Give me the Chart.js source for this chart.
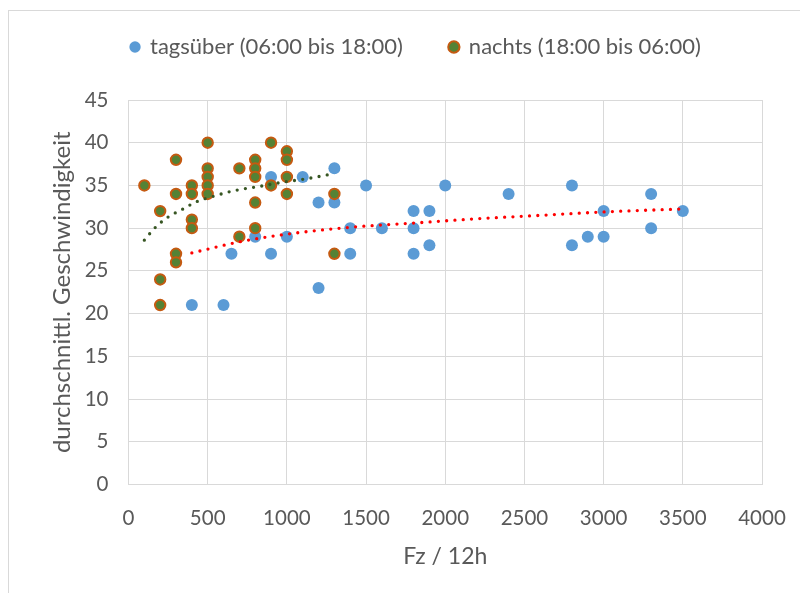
<html>
<head>
	<title>Geschwindigkeit</title>
	<style>
		html, body { margin: 0; padding: 0; background: #fff; }
		#app { width: 800px; height: 593px; }
	</style>
</head>
<body>
	<div id="app"><canvas id="chart"></canvas></div>
	<script src="https://cdn.jsdelivr.net/npm/chart.js@4/dist/chart.umd.min.js"></script>
	<script>
		// tagsueber (06:00 bis 18:00)
		var dayX = [400, 600, 650, 800, 900, 900, 1000, 1100, 1200, 1200, 1300, 1300, 1400, 1400, 1500, 1600,
			1800, 1800, 1800, 1900, 1900, 2000, 2400, 2800, 2800, 2900, 3000, 3000, 3300, 3300, 3500];
		var dayY = [21, 21, 27, 29, 27, 36, 29, 36, 33, 23, 37, 33, 30, 27, 35, 30,
			32, 30, 27, 32, 28, 35, 34, 35, 28, 29, 32, 29, 34, 30, 32];

		// nachts (18:00 bis 06:00)
		var nightX = [100, 200, 200, 200, 300, 300, 300, 300, 400, 400, 400, 400, 500, 500, 500, 500, 500,
			700, 700, 800, 800, 800, 800, 800, 900, 900, 1000, 1000, 1000, 1000, 1300, 1300];
		var nightY = [35, 32, 24, 21, 38, 34, 27, 26, 35, 34, 31, 30, 40, 37, 36, 35, 34,
			37, 29, 38, 37, 36, 33, 30, 40, 35, 39, 38, 36, 34, 34, 27];

		// trendlines
		var dayTrendX = [400, 700, 1000, 1400, 1800, 2200, 2600, 3000, 3500];
		var dayTrendY = [27.1, 28.4, 29.3, 30.1, 30.6, 31.1, 31.5, 31.9, 32.25];
		var nightTrendX = [100, 170, 250, 340, 430, 530, 670, 830, 980, 1130, 1300];
		var nightTrendY = [28.6, 30.1, 31.3, 32.2, 33.1, 33.7, 34.4, 34.9, 35.4, 35.8, 36.4];

		var xTicks = [0, 500, 1000, 1500, 2000, 2500, 3000, 3500, 4000];
		var yTicks = [0, 5, 10, 15, 20, 25, 30, 35, 40, 45];

		var labels = ['tagsüber (06:00 bis 18:00)', 'nachts (18:00 bis 06:00)'];

		function pts(xs, ys) {
			return xs.map(function (x, i) { return {x: x, y: ys[i]}; });
		}

		var txt = '#595959';
		var grid = '#d9d9d9';
		var fam = 'Lato, "Open Sans", sans-serif';

		var frame = {
			id: 'frame',
			beforeDraw: function (chart) {
				var c = chart.ctx;
				c.save();
				c.fillStyle = '#fff';
				c.fillRect(0, 0, chart.width, chart.height);
				c.strokeStyle = grid;
				c.lineWidth = 1;
				c.strokeRect(8.5, 10.5, 820, 620);
				c.restore();
			}
		};

		// legend box reaches down to the plot top; the row itself is moved up and right
		var legendPos = {
			id: 'legendPos',
			beforeLayout: function (chart) {
				var lg = chart.legend;
				if (lg && !lg._patched) {
					var f = lg.fit;
					lg.fit = function () { f.call(this); this.height = 100; };
					lg._patched = true;
				}
			},
			afterLayout: function (chart) {
				var lg = chart.legend;
				lg.top -= 11;
				lg.left += 15;
				lg.right += 15;
			}
		};

		var ctx = document.getElementById('chart').getContext('2d');
		ctx.canvas.width = 800;
		ctx.canvas.height = 593;

		new Chart(ctx, {
			type: 'scatter',
			data: {
				datasets: [
					{
						label: labels[0],
						data: pts(dayX, dayY),
						backgroundColor: '#5b9bd5',
						borderColor: '#5b9bd5',
						borderWidth: 0,
						pointRadius: 6,
						order: 3
					},
					{
						label: labels[1],
						data: pts(nightX, nightY),
						backgroundColor: '#548235',
						borderColor: '#c55a11',
						borderWidth: 2,
						pointRadius: 5.2,
						order: 2
					},
					{
						label: 'trend day',
						data: pts(dayTrendX, dayTrendY),
						showLine: true,
						borderColor: '#ff0000',
						borderWidth: 3.3,
						borderDash: [0, 8.3],
						borderCapStyle: 'round',
						cubicInterpolationMode: 'monotone',
						pointRadius: 0,
						order: 1
					},
					{
						label: 'trend night',
						data: pts(nightTrendX, nightTrendY),
						showLine: true,
						borderColor: '#375623',
						borderWidth: 3.3,
						borderDash: [0, 8.3],
						borderCapStyle: 'round',
						cubicInterpolationMode: 'monotone',
						pointRadius: 0,
						order: 0
					}
				]
			},
			options: {
				responsive: false,
				animation: false,
				layout: { padding: { top: 0, left: 40, right: 38, bottom: 8 } },
				plugins: {
					tooltip: { enabled: false },
					legend: {
						position: 'top',
						labels: {
							usePointStyle: true,
							pointStyle: 'circle',
							boxWidth: 8,
							boxHeight: 8,
							padding: 47,
							color: txt,
							font: { family: fam, size: 22 },
							filter: function (item) { return item.datasetIndex < 2; },
							sort: function (a, b) { return a.datasetIndex - b.datasetIndex; }
						}
					}
				},
				scales: {
					x: {
						type: 'linear',
						min: xTicks[0],
						max: xTicks[xTicks.length - 1],
						afterBuildTicks: function (s) { s.ticks = xTicks.map(function (v) { return {value: v}; }); },
						afterFit: function (s) { s.height = 100.5; },
						grid: { color: grid, drawTicks: true, tickLength: 14, tickColor: 'rgba(0,0,0,0)' },
						border: { color: grid },
						ticks: { color: txt, padding: 8, maxRotation: 0, font: { family: fam, size: 20.5 },
							callback: function (v) { return String(v); } },
						title: { display: true, text: 'Fz / 12h', color: txt, padding: { top: 0, bottom: 15 }, font: { family: fam, size: 23 } }
					},
					y: {
						min: yTicks[0],
						max: yTicks[yTicks.length - 1],
						afterBuildTicks: function (s) { s.ticks = yTicks.map(function (v) { return {value: v}; }); },
						afterFit: function (s) { s.width = 88.5; },
						grid: { color: grid, drawTicks: false },
						border: { color: grid },
						ticks: { color: txt, padding: 20, font: { family: fam, size: 20.5 },
							callback: function (v) { return String(v); } },
						title: { display: true, text: 'durchschnittl. Geschwindigkeit', color: txt, padding: { top: 7.6, bottom: 0 }, font: { family: fam, size: 24 } }
					}
				}
			},
			plugins: [frame, legendPos]
		});
	</script>
</body>
</html>
